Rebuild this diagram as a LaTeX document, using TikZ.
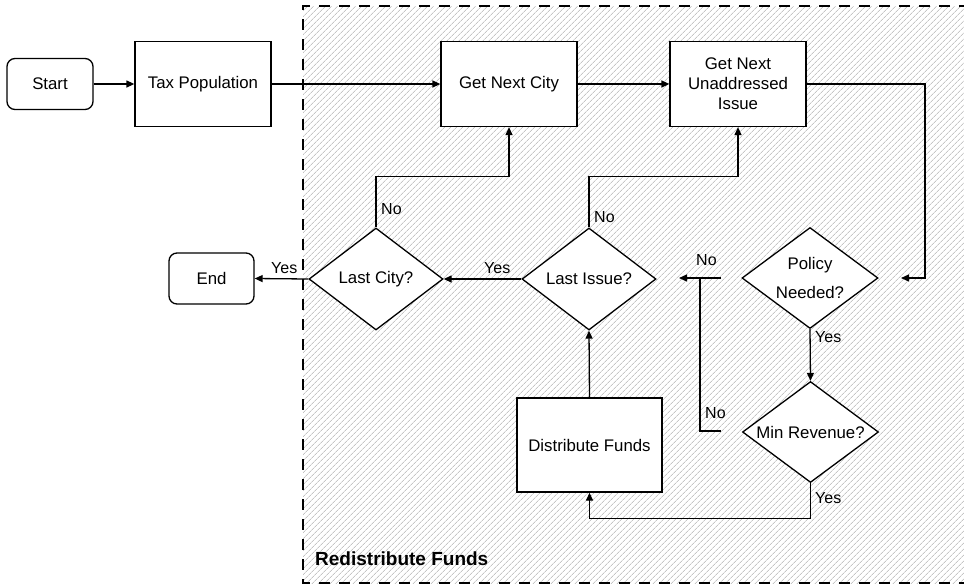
\documentclass[tikz,border=0pt]{standalone}
\usepackage{fontspec}
\setmainfont{Liberation Sans}
\usetikzlibrary{arrows.meta,shapes.geometric,patterns.meta,calc}
\begin{document}
\begin{tikzpicture}[x=1pt,y=-1pt,
  every node/.style={font=\fontsize{16.8}{20}\selectfont},
  box/.style={draw=black,fill=white,line width=1.3pt,minimum width=136pt,minimum height=85pt,inner sep=0pt,align=center},
  term/.style={box,rounded corners=8pt,minimum width=86pt,minimum height=51pt},
  dec/.style={draw=black,fill=white,line width=1.3pt,diamond,aspect=1.35,minimum width=136pt,minimum height=101pt,inner sep=0pt,align=center},
  arr/.style={line width=1.3pt,-{Triangle[length=8pt,width=7pt]}},
  conn/.style={line width=1.3pt},
  lbl/.style={inner sep=0pt,anchor=west,font=\fontsize{16}{19}\selectfont}]
\useasboundingbox (0,0) rectangle (964,587);
% container
\path[fill=white] (0,0) rectangle (964,587);
\path[pattern={Lines[angle=45,distance=4pt,line width=0.6pt]},pattern color=gray!70] (303,6) rectangle (964,583);
\draw[dash pattern=on 11pt off 9pt, line width=2.5pt] (970,6) -- (303,6) -- (303,583) -- (970,583);
\node[inner sep=0pt,anchor=west,font=\bfseries\fontsize{19}{22}\selectfont] (title) at (315,559) {Redistribute Funds};
% nodes
\node[term] (start) at (50,84) {Start};
\node[box] (tax) at (203,84) {Tax Population};
\node[box] (gnc) at (509,84) {Get Next City};
\node[box] (gnui) at (738,84) {Get Next\\Unaddressed\\Issue};
\node[dec] (pn) at (810,278) {Policy\\[9pt]Needed?};
\node[dec] (mr) at (810.5,432) {Min Revenue?};
\node[box,minimum width=145pt,minimum height=94pt] (df) at (589.5,445) {Distribute Funds};
\node[dec,minimum width=134pt,minimum height=102pt] (li) at (589,279) {Last Issue?};
\node[dec,minimum width=134pt,minimum height=102pt] (lc) at (376,279) {Last City?};
\node[term,minimum width=85pt] (end) at (211.5,278.5) {End};
% free ends
\coordinate (c1) at (925,278);
\coordinate (pnin) at (901,278);
\coordinate (nos) at (721,431);
\coordinate (noc) at (700,431);
\coordinate (nob) at (700,278);
\coordinate (noa) at (721,278);
\coordinate (noe) at (679,278);
% connectors
\draw[arr] (start.east) -- (tax.west);
\draw[arr] (tax.east) -- (gnc.west);
\draw[arr] (gnc.east) -- (gnui.west);
\draw[arr] (gnui.east) -| (c1) -- (pnin);
\draw[arr] (pn.south) -- (mr.north);
\draw[arr] (mr.south) -- ++(0,35) -| (df.south);
\draw[conn] (nos) -- (noc) -- (nob);
\draw[arr] (noa) -- (noe);
\draw[arr] (df.north) -- (li.south);
\draw[arr] (li.west) -- (lc.east);
\draw[arr] (lc.west) -- (end.east);
\draw[arr] (lc.north) -- ++(0,-51) -| (gnc.south);
\draw[arr] (li.north) -- ++(0,-51) -| (gnui.south);
% labels
\node[lbl] (l1) at (381,209) {No};
\node[lbl] (l2) at (594,217) {No};
\node[lbl] (l3) at (484,268) {Yes};
\node[lbl] (l4) at (271,268) {Yes};
\node[lbl] (l5) at (696,260) {No};
\node[lbl] (l6) at (705,413) {No};
\node[lbl] (l7) at (815,337) {Yes};
\node[lbl] (l8) at (815,498) {Yes};
\end{tikzpicture}
\end{document}
